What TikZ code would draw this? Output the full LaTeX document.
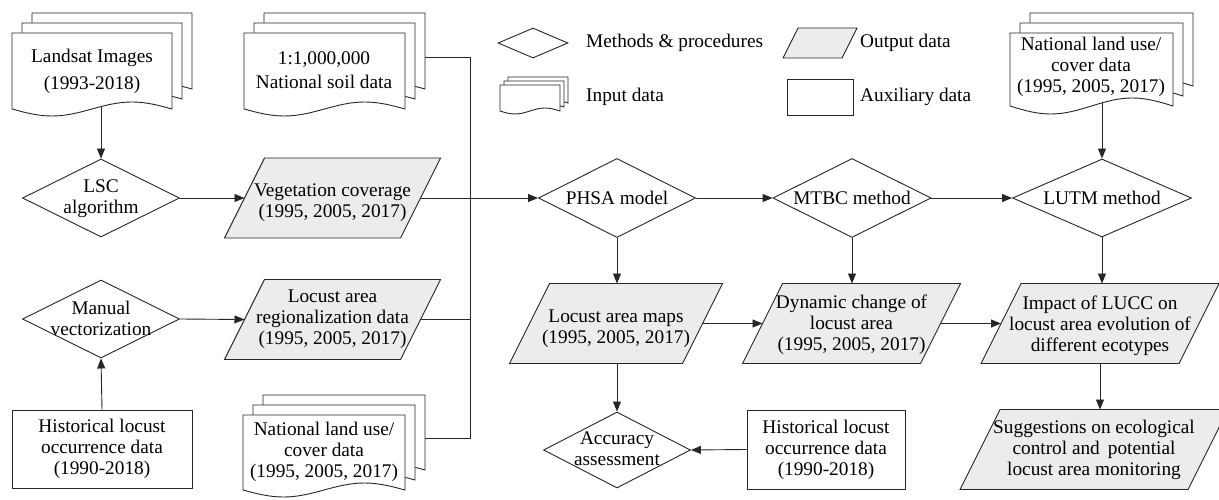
\documentclass[tikz,border=0pt]{standalone}
\usepackage{fontspec}
\setmainfont{Liberation Serif}
\usetikzlibrary{arrows.meta,shapes.geometric}
\tikzset{
  ln/.style={draw=black!85, line width=0.9pt},
  arr/.style={ln, -{Triangle[length=10pt,width=8pt]}},
  dia/.style={draw=black!85, line width=0.9pt, diamond, inner sep=0pt, fill=white},
  outp/.style={draw=black!85, line width=0.9pt, fill=gray!15},
  docsheet/.style={draw=black!85, line width=0.9pt, fill=white},
  abox/.style={draw=black!85, line width=0.9pt, rectangle, inner sep=0pt, fill=white},
  txt/.style={align=center, inner sep=0pt, font=\fontsize{19.3}{21}\selectfont},
}
% one document sheet: x0, x1, top, bottom line, wave amplitude
\newcommand{\dsheet}[5]{%
  \draw[docsheet] ({#1},{#3}) -- ({#2},{#3}) -- ({#2},{#4})
    sin ({#2-(#2-#1)/4},{#4-#5}) cos ({(#1+#2)/2},{#4})
    sin ({#1+(#2-#1)/4},{#4+#5}) cos ({#1},{#4}) -- cycle;}
% stack of three sheets: x0, x1, top, bottom, amplitude, offset
\newcommand{\dstack}[6]{%
  \foreach \dsk in {2,1,0}{%
    \pgfmathsetmacro{\dsXa}{#1+\dsk*#6}%
    \pgfmathsetmacro{\dsXb}{#2+\dsk*#6}%
    \pgfmathsetmacro{\dsYt}{#3-\dsk*#6}%
    \pgfmathsetmacro{\dsYb}{#4-\dsk*#6}%
    \dsheet{\dsXa}{\dsXb}{\dsYt}{\dsYb}{#5}}}
% parallelogram: name, cx, cy, edge width, text, text shift
\newcommand{\prl}[6]{%
  \draw[outp] ({#2-#4/2-20},{#3+40}) -- ({#2+#4/2-20},{#3+40})
    -- ({#2+#4/2+20},{#3-40}) -- ({#2-#4/2+20},{#3-40}) -- cycle;
  \coordinate (#1-l) at ({#2-#4/2},{#3});
  \coordinate (#1-r) at ({#2+#4/2},{#3});
  \coordinate (#1-t) at ({#2},{#3-40});
  \coordinate (#1-b) at ({#2},{#3+40});
  \node[txt] (#1) at ({#2},{#3+#6}) {#5};}

\begin{document}
\begin{tikzpicture}[x=1pt,y=-1pt]
\useasboundingbox (0,0) rectangle (1219,500);

% ---------- legend ----------
\node[dia, minimum width=70, minimum height=30] (lgdia) at (533,43) {};
\node[txt, anchor=west] (lgdiat) at (586,43) {Methods \& procedures};
\dstack{500}{560}{85}{111}{3}{4}
\node[txt, anchor=west] (lgdoct) at (586,97) {Input data};
\draw[outp] (783,58) -- (842,58) -- (857,28) -- (798,28) -- cycle;
\node[txt, anchor=west] (lgoutt) at (860,43) {Output data};
\node[abox, minimum width=66, minimum height=36] (lgaux) at (820,97) {};
\node[txt, anchor=west] (lgauxt) at (860,97) {Auxiliary data};

% ---------- input documents ----------
\dstack{12}{172}{33}{109}{7}{10}
\node[txt] (landsat) at (92,71) {Landsat Images\\[6pt](1993-2018)};
\coordinate (landsat-out) at (101,106.6);

\dstack{244}{405}{33}{109}{7}{10}
\node[txt] (soil) at (324,70) {1:1,000,000\\[3pt]National soil data};
\coordinate (soil-s3) at (425,57);

\dstack{1010}{1173}{33}{106}{8}{10}
\node[txt] (lutop) at (1091,67) {National land use/\\cover data\\(1995, 2005, 2017)};
\coordinate (lutop-out) at (1102,102.9);

\dstack{243}{405}{415}{490}{7}{10}
\node[txt] (lubot) at (324,452) {National land use/\\cover data\\(1995, 2005, 2017)};
\coordinate (lubot-s3) at (425,438);

% ---------- methods ----------
\node[dia, minimum width=157, minimum height=78] (lsc) at (101,198) {};
\node[txt] (lsct) at (101,198.5) {LSC\\algorithm};
\node[dia, minimum width=157, minimum height=78] (man) at (101,319) {};
\node[txt] (mant) at (101,318) {Manual\\vectorization};
\node[dia, minimum width=157, minimum height=79] (phsa) at (617,198) {};
\node[txt] (phsat) at (617,198) {PHSA model};
\node[dia, minimum width=158, minimum height=79] (mtbc) at (852,198) {};
\node[txt] (mtbct) at (852,198) {MTBC method};
\node[dia, minimum width=179, minimum height=78] (lutm) at (1102,198) {};
\node[txt] (lutmt) at (1102,198) {LUTM method};
\node[dia, minimum width=147, minimum height=76] (acc) at (617,450) {};
\node[txt] (acct) at (617,449) {Accuracy\\assessment};

% ---------- auxiliary ----------
\node[abox, txt, minimum width=180, minimum height=78] (histl) at (102,449) {Historical locust\\occurrence data\\(1990-2018)};
\node[abox, txt, minimum width=158, minimum height=79] (histr) at (826,449.5) {Historical locust\\occurrence data\\(1990-2018)};

% ---------- outputs ----------
\prl{veg}{332.5}{198}{176}{Vegetation coverage\\(1995, 2005, 2017)}{5}
\prl{reg}{332.5}{319.5}{176}{Locust area\\regionalization data\\(1995, 2005, 2017)}{0}
\prl{maps}{616}{323.5}{173}{Locust area maps\\(1995, 2005, 2017)}{5}
\prl{dyn}{851.5}{323.5}{178}{Dynamic change of\\locust area\\(1995, 2005, 2017)}{1.5}
\prl{imp}{1100}{323.5}{198}{Impact of LUCC on\\locust area evolution of\\different ecotypes}{2}
\prl{sug}{1094}{449.5}{228}{Suggestions on ecological\\control and\, potential\\locust area monitoring}{0}

% ---------- connectors ----------
\coordinate (bus-top) at (470,57);
\coordinate (bus-bot) at (470,438);
\draw[ln] (soil-s3) -- (bus-top) -- (bus-bot) -- (lubot-s3);
\draw[ln] (reg-r) -- (reg-r -| bus-top);

\draw[arr] (landsat-out) -- (lsc.north);
\draw[arr] (lsc.east) -- (veg-l);
\draw[arr] (veg-r) -- (phsa.west);
\draw[arr] (phsa.east) -- (mtbc.west);
\draw[arr] (mtbc.east) -- (lutm.west);
\draw[arr] (lutop-out) -- (lutm.north);
\draw[arr] (histl.north) -- (man.south);
\draw[arr] (man.east) -- (reg-l);
\draw[arr] (phsa.south) -- (phsa.south |- maps-t);
\draw[arr] (mtbc.south) -- (mtbc.south |- dyn-t);
\draw[arr] (lutm.south) -- (lutm.south |- imp-t);
\draw[arr] (maps-r) -- (dyn-l);
\draw[arr] (dyn-r) -- (imp-l);
\draw[arr] (maps-b -| acc.north) -- (acc.north);
\draw[arr] (histr.west) -- (acc.east);
\draw[arr] (imp-b) -- (imp-b |- sug-t);
\end{tikzpicture}
\end{document}
